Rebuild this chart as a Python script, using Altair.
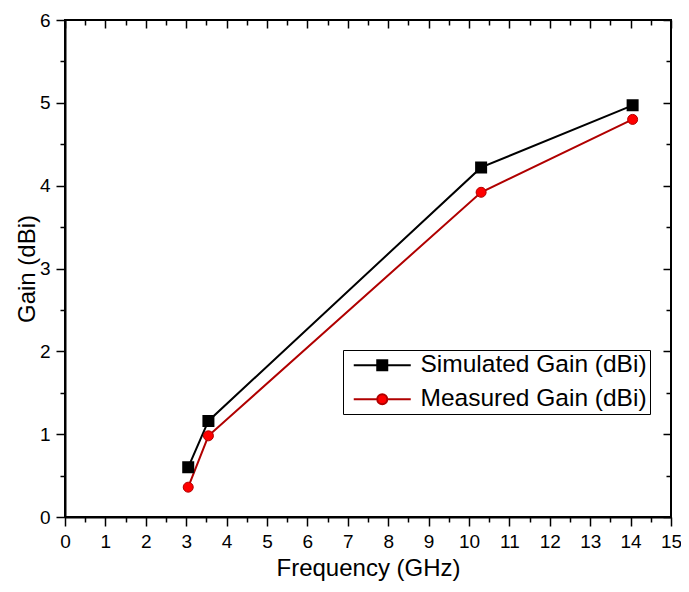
import altair as alt
import pandas as pd

FONT = "Liberation Sans"

freq = [3.05, 3.55, 10.3, 14.05]
simulated = [0.60, 1.16, 4.22, 4.97]
measured = [0.36, 0.98, 3.92, 4.80]
series_names = ["Simulated Gain (dBi)", "Measured Gain (dBi)"]
x_major = list(range(0, 16))
y_major = list(range(0, 7))
x_minor = [i + 0.5 for i in range(15)]
y_minor = [i + 0.5 for i in range(6)]

sim_df = pd.DataFrame({"freq": freq, "gain": simulated, "series": series_names[0]})
meas_df = pd.DataFrame({"freq": freq, "gain": measured, "series": series_names[1]})
all_df = pd.concat([sim_df, meas_df], ignore_index=True)

xscale = alt.Scale(domain=[0, 15], nice=False, zero=False)
yscale = alt.Scale(domain=[0, 6], nice=False, zero=False)


def axis(orient, values, size, labels=False, title=None, offset=0, domain=False):
    kw = dict(orient=orient, values=values, tickSize=size, tickWidth=1.5,
              tickColor="black", labels=labels, domain=domain, grid=False,
              title=title, offset=offset)
    if domain:
        kw.update(domainColor="black", domainWidth=2)
    if labels:
        kw.update(labelFont=FONT, labelFontSize=19, labelColor="black",
                  labelFlush=False, labelOverlap=False, labelPadding=6)
    if title:
        kw.update(titleFont=FONT, titleFontSize=24, titleFontWeight="normal",
                  titleColor="black", titlePadding=5 if orient == "bottom" else 0)
    return alt.Axis(**kw)


def enc(xax, yax):
    return dict(
        x=alt.X("freq:Q", scale=xscale, axis=xax),
        y=alt.Y("gain:Q", scale=yscale, axis=yax),
    )


sim_line = alt.Chart(sim_df).mark_line(color="black", strokeWidth=2).encode(
    **enc(axis("bottom", x_major, 9, labels=True, title="Frequency (GHz)", domain=True),
          axis("left", y_major, 9, labels=True, title="Gain (dBi)", domain=True))
)
meas_line = alt.Chart(meas_df).mark_line(color="#b00000", strokeWidth=2).encode(
    **enc(axis("bottom", x_minor, 5), axis("left", y_minor, 5))
)
sim_pts = alt.Chart(sim_df).mark_point(
    shape="square", filled=True, size=100, fill="black", stroke="black", opacity=1
).encode(**enc(axis("top", x_major, 8, offset=-8), axis("right", y_major, 8, offset=-8)))
meas_pts = alt.Chart(meas_df).mark_point(
    shape="circle", filled=True, size=100, fill="#ff0000", stroke="#b00000",
    strokeWidth=1, opacity=1
).encode(**enc(axis("top", x_minor, 5, offset=-5), axis("right", y_minor, 5, offset=-5)))

sq_path = "M-0.9,0H10.5M3.8,-1H5.8V1H3.8Z"
ci_path = "M-0.9,0H3.8M5.8,0H10.5M5.8,0A1,1,0,1,1,3.8,0A1,1,0,1,1,5.8,0Z"

leg = alt.Legend(
    title=None, orient="none", legendX=278, legendY=330, direction="vertical",
    strokeColor="black", fillColor="white", padding=3, rowPadding=9,
    labelFont=FONT, labelFontSize=24.5, labelColor="black", labelLimit=400,
    symbolSize=100, symbolStrokeWidth=2, labelOffset=50,
)

legend_layer = alt.Chart(all_df).transform_filter("false").mark_point(
    filled=True, strokeWidth=2, opacity=1
).encode(
    shape=alt.Shape("series:N", scale=alt.Scale(domain=series_names, range=[sq_path, ci_path]), legend=leg),
    fill=alt.Fill("series:N", scale=alt.Scale(domain=series_names, range=["black", "#ff0000"]), legend=leg),
    stroke=alt.Stroke("series:N", scale=alt.Scale(domain=series_names, range=["black", "#b00000"]), legend=leg),
)

chart = alt.layer(sim_line, meas_line, sim_pts, meas_pts, legend_layer).resolve_axis(
    x="independent", y="independent"
).properties(
    width=606, height=497,
    autosize=alt.AutoSizeParams(type="none"),
    padding={"left": 57, "top": 12, "right": 10, "bottom": 65},
    background="white",
).configure_view(stroke="black", strokeWidth=2)

chart.save("out.html", embed_options={"renderer": "svg", "actions": False})
